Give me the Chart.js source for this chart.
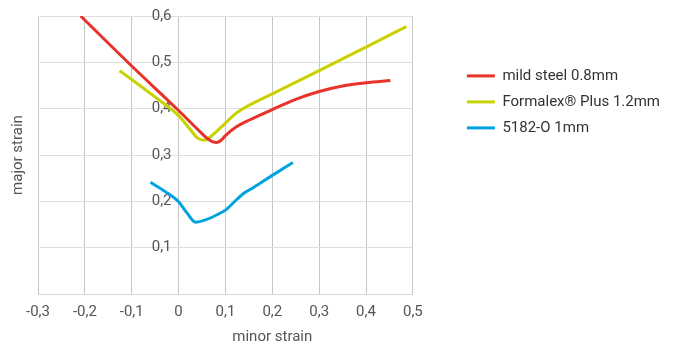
<!DOCTYPE html>
<html>
<head>
<meta charset="utf-8">
<script src="https://cdn.jsdelivr.net/npm/chart.js@4.4.1/dist/chart.umd.min.js"></script>
<style>
  html, body { margin: 0; padding: 0; background: #fff; }
  #wrap { width: 678px; height: 345px; }
</style>
</head>
<body>
<div id="wrap"><canvas id="flc"></canvas></div>
<script>
// forming limit curves (minor strain -> major strain)
const seriesNames = ['mild steel 0.8mm', 'Formalex\u00AE Plus 1.2mm', '5182-O 1mm'];
const seriesColors = ['#e8322a', '#c6d300', '#00a3e0'];

const mildSteelX = [-0.209, -0.1, 0, 0.05, 0.062, 0.072, 0.082, 0.092, 0.1, 0.125, 0.15, 0.2, 0.25, 0.3, 0.35, 0.4, 0.452];
const mildSteelY = [0.6, 0.492, 0.396, 0.346, 0.335, 0.329, 0.327, 0.333, 0.342, 0.362, 0.375, 0.398, 0.42, 0.437, 0.449, 0.456, 0.461];

const formalexX = [-0.126, -0.1, -0.05, 0, 0.025, 0.04, 0.055, 0.07, 0.1, 0.125, 0.15, 0.2, 0.3, 0.4, 0.486];
const formalexY = [0.482, 0.463, 0.425, 0.385, 0.355, 0.337, 0.332, 0.341, 0.369, 0.392, 0.407, 0.432, 0.482, 0.533, 0.577];

const alu5182X = [-0.06, -0.03, 0, 0.018, 0.036, 0.06, 0.08, 0.1, 0.12, 0.14, 0.16, 0.2, 0.244];
const alu5182Y = [0.241, 0.222, 0.199, 0.175, 0.155, 0.161, 0.17, 0.181, 0.2, 0.218, 0.23, 0.256, 0.284];

const xTicks = { min: -0.3, max: 0.5, step: 0.1 };
const yTicks = { min: 0, max: 0.6, step: 0.1 };

const fmt = v => {
  const r = Math.round(v * 10) / 10;
  return r === 0 ? '0' : r.toFixed(1).replace('.', ',');
};

const pts = (xs, ys) => xs.map((x, i) => ({ x: x, y: ys[i] }));
const allX = [mildSteelX, formalexX, alu5182X];
const allY = [mildSteelY, formalexY, alu5182Y];

const datasets = seriesNames.map((name, i) => ({
  label: name,
  data: pts(allX[i], allY[i]),
  borderColor: seriesColors[i],
  backgroundColor: seriesColors[i],
  borderWidth: 3,
  pointRadius: 0,
  cubicInterpolationMode: 'monotone',
  fill: false
}));

const FONT = 'Roboto, "Liberation Sans", sans-serif';

// x-axis title sits under 0,2 in the original, so draw it by hand
const xTitle = {
  id: 'xTitle',
  afterDraw(chart) {
    const xs = chart.scales.x;
    const ctx = chart.ctx;
    ctx.save();
    ctx.font = '15px ' + FONT;
    ctx.fillStyle = '#555';
    ctx.textAlign = 'center';
    ctx.textBaseline = 'middle';
    ctx.fillText('minor strain', xs.getPixelForValue(0.2), xs.bottom - 8);
    ctx.restore();
  }
};

const config = {
  type: 'line',
  data: { datasets: datasets },
  options: {
    responsive: true,
    maintainAspectRatio: false,
    animation: false,
    layout: { padding: { top: 16, left: 0, right: 8, bottom: 0 } },
    scales: {
      x: {
        type: 'linear',
        min: xTicks.min,
        max: xTicks.max,
        grid: { color: '#c6c6c6', drawTicks: false },
        border: { color: '#d8d8d8' },
        ticks: {
          stepSize: xTicks.step,
          padding: 9,
          color: '#555',
          font: { family: FONT, size: 15 },
          callback: v => fmt(v)
        },
        afterFit: s => { s.height = 51; }
      },
      y: {
        type: 'linear',
        // labels hang just left of the zero line
        position: { x: -0.015 },
        min: yTicks.min,
        max: yTicks.max,
        grid: { color: '#dedede', drawTicks: false },
        border: { display: false },
        ticks: {
          stepSize: yTicks.step,
          color: '#555',
          font: { family: FONT, size: 15 },
          callback: v => (Math.abs(v) < 1e-9 ? '' : fmt(v))
        }
      },
      yTitle: {
        type: 'linear',
        axis: 'y',
        position: 'left',
        min: 0,
        max: 1,
        grid: { display: false },
        border: { display: false },
        ticks: { display: false },
        title: {
          display: true,
          text: 'major strain',
          color: '#555',
          font: { family: FONT, size: 15 },
          padding: { top: 9, bottom: 0 }
        },
        afterFit: s => { s.width = 38; }
      },
      gap: {
        type: 'linear',
        axis: 'y',
        position: 'right',
        min: 0,
        max: 1,
        grid: { display: false },
        border: { display: false },
        ticks: { display: false },
        afterFit: s => { s.width = 43; }
      }
    },
    plugins: {
      legend: {
        position: 'right',
        align: 'start',
        maxWidth: 260,
        title: { display: true, text: '', font: { size: 12 }, padding: { top: 27, bottom: 0 } },
        labels: {
          boxWidth: 28,
          boxHeight: 3,
          padding: 11,
          color: '#333',
          font: { family: FONT, size: 15 },
          generateLabels: chart => Chart.defaults.plugins.legend.labels.generateLabels(chart)
            .map(l => Object.assign(l, { lineWidth: 0 }))
        }
      },
      tooltip: { enabled: false }
    }
  },
  plugins: [xTitle]
};

new Chart(document.getElementById('flc').getContext('2d'), config);
</script>
</body>
</html>
